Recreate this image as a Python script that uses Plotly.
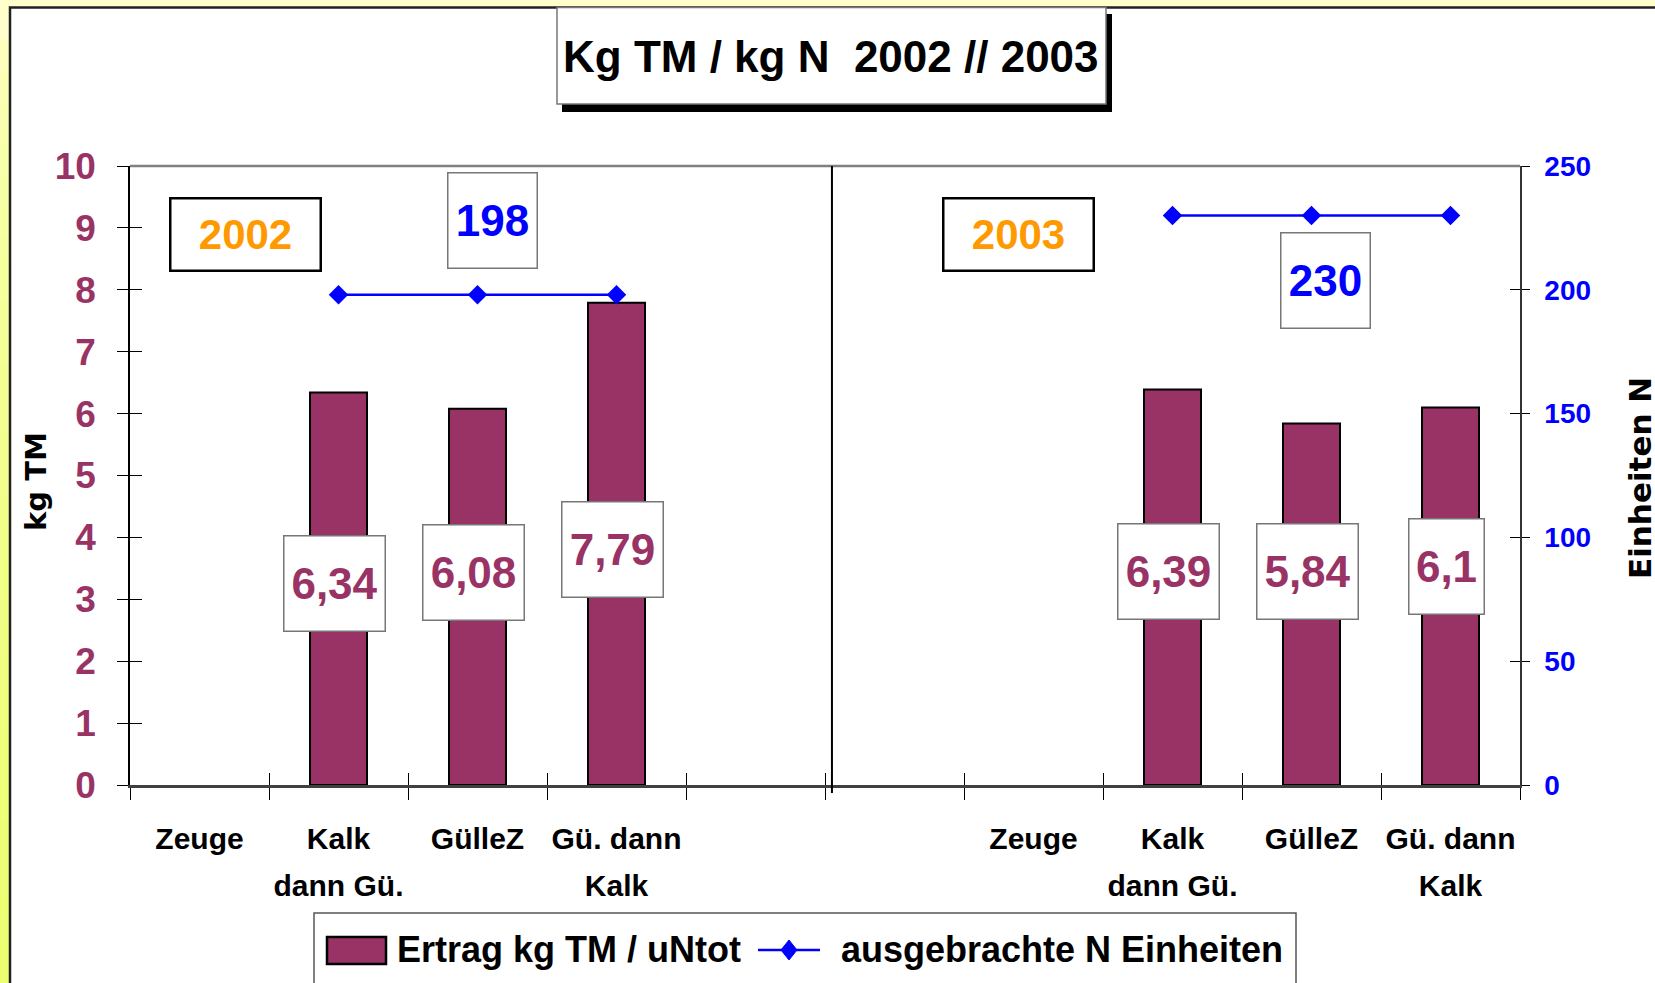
import plotly.graph_objects as go

# ---------------- data ----------------
tick_line1 = ["Zeuge", "Kalk", "GülleZ", "Gü. dann", "",
              "", "Zeuge", "Kalk", "GülleZ", "Gü. dann"]
tick_line2 = ["", "dann Gü.", "", "Kalk", "",
              "", "", "dann Gü.", "", "Kalk"]
ertrag = [None, 6.34, 6.08, 7.79, None, None, None, 6.39, 5.84, 6.10]
n_einheiten = [None, 198, 198, 198, None, None, None, 230, 230, 230]
years = ["2002", "2003"]
n_group_values = [198, 230]
series_names = ["Ertrag kg TM / uNtot", "ausgebrachte N Einheiten"]
title_text = "Kg TM / kg N  2002 // 2003"
y_title_left = "kg TM"
y_title_right = "Einheiten N"

# label placement (positions only)
label_center_y = [None, 3.25, 3.44, 3.80, None, None, None, 3.45, 3.45, 3.53]

x_pos = list(range(1, len(tick_line1) + 1))
boundaries = [i + 0.5 for i in range(0, len(tick_line1) + 1)]

# ---------------- styles ----------------
NARROW = "Liberation Sans, Arial, sans-serif"
WIDE = "DejaVu Sans, Liberation Sans, sans-serif"
PURPLE = "#993366"
BLUE = "#0000FF"
ORANGE = "#FF9900"

W_FIG, H_FIG = 1655, 983
L, R, T, B = 130, 1520, 166, 785


def px(x):
    return (x - L) / (R - L)


def py(y):
    return (B - y) / (B - T)


fig = go.Figure()

fig.add_trace(go.Bar(
    x=x_pos, y=ertrag, name=series_names[0], width=0.41,
    marker=dict(color=PURPLE, line=dict(color="black", width=2)),
    showlegend=False, hoverinfo="y",
))
fig.add_trace(go.Scatter(
    x=x_pos, y=n_einheiten, name=series_names[1], yaxis="y2",
    mode="lines+markers", connectgaps=False,
    line=dict(color=BLUE, width=2.5),
    marker=dict(symbol="diamond", size=15, color=BLUE),
    showlegend=False, hoverinfo="y",
))
# empty helper traces so overlay tick axes get drawn
fig.add_trace(go.Scatter(x=[None], y=[None], xaxis="x2", yaxis="y3", showlegend=False, hoverinfo="skip"))
fig.add_trace(go.Scatter(x=[None], y=[None], xaxis="x2", yaxis="y4", showlegend=False, hoverinfo="skip"))
fig.add_trace(go.Scatter(x=[None], y=[None], xaxis="x3", yaxis="y", showlegend=False, hoverinfo="skip"))

xr = [0.5, len(tick_line1) + 0.5]
xfont = dict(family=NARROW, size=30, color="black", weight="bold")

fig.update_layout(
    width=W_FIG, height=H_FIG,
    margin=dict(l=L, r=W_FIG - R, t=T, b=H_FIG - B, pad=0),
    paper_bgcolor="#FFFFCC",
    plot_bgcolor="white",
    showlegend=False,
    xaxis=dict(
        range=xr, tickmode="array", tickvals=x_pos, ticktext=tick_line1,
        ticks="", showgrid=False, zeroline=False,
        showline=True, linecolor="#404040", linewidth=2.5,
        tickfont=xfont, ticklabelstandoff=25,
        minor=dict(tickmode="array", tickvals=boundaries, ticks="outside", ticklen=12,
                   tickcolor="black", tickwidth=1, showgrid=False),
    ),
    xaxis2=dict(
        range=xr, overlaying="x", anchor="y", tickmode="array", tickvals=boundaries,
        ticks="inside", ticklen=12, tickcolor="black", showticklabels=False,
        showgrid=False, zeroline=False, showline=False,
    ),
    xaxis3=dict(
        range=xr, overlaying="x", anchor="y", side="bottom", tickmode="array",
        tickvals=x_pos, ticktext=tick_line2, ticks="", tickfont=xfont,
        ticklabelstandoff=80, showgrid=False, zeroline=False, showline=False,
    ),
    yaxis=dict(
        range=[0, 10], dtick=1, tick0=0, ticks="outside", ticklen=11, tickcolor="black",
        showgrid=False, zeroline=False, showline=True, linecolor="black", linewidth=1.5,
        tickfont=dict(family=NARROW, size=37, color=PURPLE, weight="bold"),
        ticklabelstandoff=14,
    ),
    yaxis2=dict(
        range=[0, 250], dtick=50, tick0=0, overlaying="y", side="right", anchor="x",
        ticks="outside", ticklen=8, tickcolor="black",
        showgrid=False, zeroline=False, showline=True, linecolor="#333333", linewidth=1.5,
        tickfont=dict(family=NARROW, size=28, color=BLUE, weight="bold"),
        ticklabelstandoff=9,
    ),
    yaxis3=dict(
        range=[0, 10], dtick=1, tick0=0, overlaying="y", side="left", anchor="x2",
        ticks="inside", ticklen=12, tickcolor="black", showticklabels=False,
        showgrid=False, zeroline=False, showline=False,
    ),
    yaxis4=dict(
        range=[0, 250], dtick=50, tick0=0, overlaying="y", side="right", anchor="x2",
        ticks="inside", ticklen=10, tickcolor="black", showticklabels=False,
        showgrid=False, zeroline=False, showline=False,
    ),
)

shapes = []
# yellowish left strip (gradient approximation)
n_bands = 30
top_c = (255, 255, 204)
bot_c = (236, 255, 112)
for i in range(n_bands):
    t = (i / (n_bands - 1)) ** 0.5
    c = tuple(round(top_c[k] + (bot_c[k] - top_c[k]) * t) for k in range(3))
    y0 = 7 + (H_FIG - 7) * i / n_bands
    y1 = 7 + (H_FIG - 7) * (i + 1) / n_bands
    shapes.append(dict(type="rect", xref="paper", yref="paper", layer="below",
                       x0=px(-5), x1=px(10), y0=py(y1 + 1), y1=py(y0),
                       fillcolor="rgb(%d,%d,%d)" % c, line=dict(width=0)))
# white chart area with dark border
shapes.append(dict(type="rect", xref="paper", yref="paper", layer="below",
                   x0=px(10), x1=px(1720), y0=py(1060), y1=py(7.5),
                   fillcolor="white", line=dict(color="#222222", width=2.5)))
# top border of plot area
shapes.append(dict(type="line", xref="paper", yref="paper",
                   x0=0, x1=1, y0=1, y1=1, line=dict(color="#808080", width=2.5)))
# divider between the two years
shapes.append(dict(type="line", xref="x", yref="paper",
                   x0=5.55, x1=5.55, y0=py(793), y1=1, line=dict(color="black", width=2)))
# title shadow + box
shapes.append(dict(type="rect", xref="paper", yref="paper",
                   x0=px(562), x1=px(1112), y0=py(112), y1=py(14),
                   fillcolor="black", line=dict(width=0)))
shapes.append(dict(type="rect", xref="paper", yref="paper",
                   x0=px(557), x1=px(1106), y0=py(104), y1=py(7.5),
                   fillcolor="white", line=dict(color="#777777", width=1.5)))
# legend frame
shapes.append(dict(type="rect", xref="paper", yref="paper",
                   x0=px(314), x1=px(1296), y0=py(1010), y1=py(913),
                   fillcolor="white", line=dict(color="#555555", width=1.5)))
# legend bar swatch
shapes.append(dict(type="rect", xref="paper", yref="paper",
                   x0=px(327), x1=px(386), y0=py(964), y1=py(937),
                   fillcolor=PURPLE, line=dict(color="black", width=2.5)))
# legend line + diamond
shapes.append(dict(type="line", xref="paper", yref="paper",
                   x0=px(758), x1=px(820), y0=py(950), y1=py(950),
                   line=dict(color=BLUE, width=2.5)))
dx, dy = 8, 10
cx, cy = 789, 950
shapes.append(dict(type="path", xref="paper", yref="paper",
                   path="M %f %f L %f %f L %f %f L %f %f Z" % (
                       px(cx), py(cy - dy), px(cx + dx), py(cy), px(cx), py(cy + dy), px(cx - dx), py(cy)),
                   fillcolor=BLUE, line=dict(color=BLUE, width=1)))
fig.update_layout(shapes=shapes)

ann = []
# title
ann.append(dict(xref="paper", yref="paper", x=px(831), y=py(56), text=title_text,
                showarrow=False, xanchor="center", yanchor="middle",
                font=dict(family=NARROW, size=44, color="black", weight="bold")))
# axis titles
ann.append(dict(xref="paper", yref="paper", x=px(36), y=py(482), text=y_title_left,
                showarrow=False, textangle=-90, xanchor="center", yanchor="middle",
                font=dict(family=WIDE, size=29, color="black", weight="bold")))
ann.append(dict(xref="paper", yref="paper", x=px(1640), y=py(478), text=y_title_right,
                showarrow=False, textangle=-90, xanchor="center", yanchor="middle",
                font=dict(family=WIDE, size=31, color="black", weight="bold")))
# year boxes
for yr, cxp in zip(years, [245, 1018.5]):
    ann.append(dict(xref="paper", yref="paper", x=px(cxp), y=py(234), text=yr,
                    showarrow=False, xanchor="center", yanchor="middle",
                    width=148, height=70, borderpad=0, bgcolor="white",
                    bordercolor="black", borderwidth=2.5,
                    font=dict(family=NARROW, size=42, color=ORANGE, weight="bold")))
# N value boxes
for val, (cxp, cyp) in zip(n_group_values, [(492, 220), (1325, 280)]):
    ann.append(dict(xref="paper", yref="paper", x=px(cxp), y=py(cyp), text=str(val),
                    showarrow=False, xanchor="center", yanchor="middle",
                    width=88, height=94, borderpad=0, bgcolor="white",
                    bordercolor="#777777", borderwidth=1.5,
                    font=dict(family=NARROW, size=44, color=BLUE, weight="bold")))
# bar value labels
for xv, v, ly in zip(x_pos, ertrag, label_center_y):
    if v is None:
        continue
    txt = ("%.2f" % v).rstrip("0").rstrip(".").replace(".", ",")
    ann.append(dict(xref="x", yref="y", x=xv - 0.03, y=ly, text=txt,
                    showarrow=False, xanchor="center", yanchor="middle",
                    width=100 if len(txt) > 3 else 74, height=94, borderpad=0,
                    bgcolor="white", bordercolor="#777777", borderwidth=1.5,
                    font=dict(family=NARROW, size=44, color=PURPLE, weight="bold")))
# legend texts
ann.append(dict(xref="paper", yref="paper", x=px(395), y=py(950), text=series_names[0],
                showarrow=False, xanchor="left", yanchor="middle",
                font=dict(family=NARROW, size=36, color="black", weight="bold")))
ann.append(dict(xref="paper", yref="paper", x=px(839), y=py(950), text=series_names[1],
                showarrow=False, xanchor="left", yanchor="middle",
                font=dict(family=NARROW, size=36, color="black", weight="bold")))
fig.update_layout(annotations=ann)

fig.write_html("out.html", config={"displayModeBar": False},
               post_script="document.body.style.margin='0';document.body.style.overflow='hidden';")
